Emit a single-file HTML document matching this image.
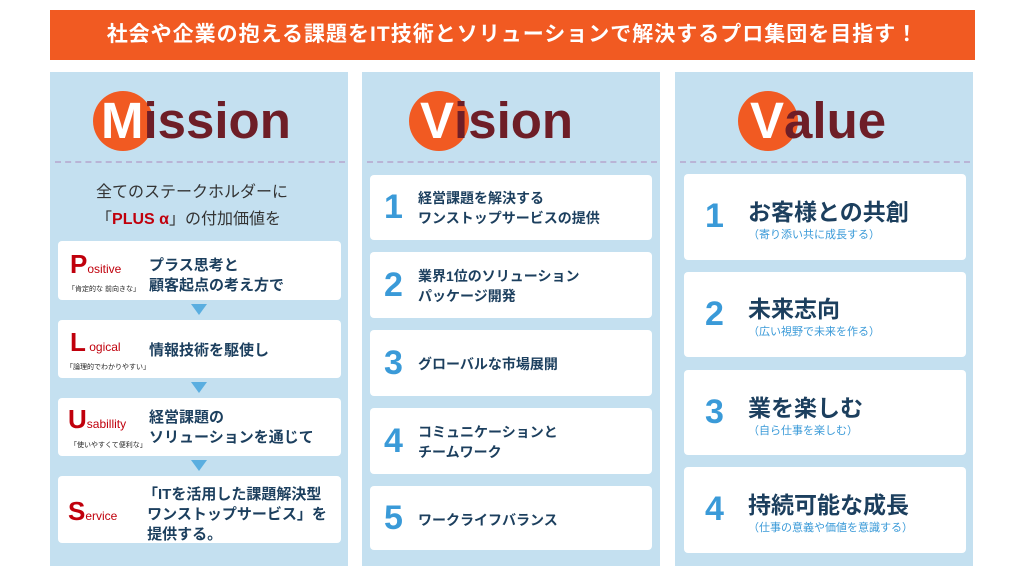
<!DOCTYPE html>
<html><head><meta charset="utf-8"><style>
*{margin:0;padding:0;box-sizing:border-box}
body{width:1024px;height:576px;background:#fff;position:relative;overflow:hidden;font-family:"Liberation Sans","Noto Sans CJK JP",sans-serif}
.ab{position:absolute}
.banner{left:50px;top:10px;width:925px;height:50px;background:#f15a22;color:#fff;font-weight:bold;font-size:21px;text-align:center;line-height:50px;letter-spacing:1px}
.col{top:72px;width:298px;height:494px;background:#c4e0f0}
.circ{width:60px;height:60px;border-radius:50%;background:#f15a22}
.big{font-size:51px;font-weight:bold;color:#6e1e27;line-height:1;letter-spacing:0}
.big b{color:#fff}
.dash{height:0;border-top:2px dashed #b9b4d6}
.card{background:#fff;border-radius:4px}
.num{color:#3a9ad8;font-weight:bold;font-size:34px}
.jt{color:#1c3f5e;font-weight:bold;font-size:15px;line-height:20px}
.tri{width:0;height:0;border-left:8px solid transparent;border-right:8px solid transparent;border-top:11px solid #5aaee0}
.L{color:#c0000c;font-weight:bold;font-size:26px}
.sm{color:#c0000c;font-size:12px}
.tiny{font-size:7px;color:#222}
.vt{color:#1c3f5e;font-size:23px;font-weight:bold}
.vs{color:#3a9ad8;font-size:11px}
</style></head><body>
<div class="ab banner">社会や企業の抱える課題をIT技術とソリューションで解決するプロ集団を目指す！</div>

<div class="ab col" style="left:50px"></div>
<div class="ab col" style="left:362px"></div>
<div class="ab col" style="left:675px"></div>

<!-- Mission -->
<div class="ab circ" style="left:93px;top:91px"></div>
<div class="ab big" style="left:101px;top:95px"><b>M</b>ission</div>
<div class="ab dash" style="left:55px;top:161px;width:290px"></div>
<div class="ab" style="left:96px;top:178px;font-size:16px;color:#333">全てのステークホルダーに</div>
<div class="ab" style="left:96px;top:205px;font-size:16px;color:#333">「<span style="color:#c0000c;font-weight:bold">PLUS α</span>」の付加価値を</div>

<div class="ab card" style="left:58px;top:241px;width:283px;height:59px"></div>
<div class="ab" style="left:70px;top:249px"><span class="L">P</span><span class="sm">ositive</span></div>
<div class="ab tiny" style="left:68px;top:284px">「肯定的な 前向きな」</div>
<div class="ab jt" style="left:149px;top:256px">プラス思考と<br>顧客起点の考え方で</div>
<div class="ab tri" style="left:191px;top:304px"></div>

<div class="ab card" style="left:58px;top:320px;width:283px;height:58px"></div>
<div class="ab" style="left:70px;top:327px"><span class="L">L</span><span class="sm"> ogical</span></div>
<div class="ab tiny" style="left:66px;top:362px">「論理的でわかりやすい」</div>
<div class="ab jt" style="left:149px;top:341px">情報技術を駆使し</div>
<div class="ab tri" style="left:191px;top:382px"></div>

<div class="ab card" style="left:58px;top:398px;width:283px;height:58px"></div>
<div class="ab" style="left:68px;top:404px"><span class="L">U</span><span class="sm">sabillity</span></div>
<div class="ab tiny" style="left:70px;top:440px">「使いやすくて便利な」</div>
<div class="ab jt" style="left:149px;top:408px">経営課題の<br>ソリューションを通じて</div>
<div class="ab tri" style="left:191px;top:460px"></div>

<div class="ab card" style="left:58px;top:476px;width:283px;height:67px"></div>
<div class="ab" style="left:68px;top:496px"><span class="L">S</span><span class="sm">ervice</span></div>
<div class="ab jt" style="left:143px;top:485px">「ITを活用した課題解決型<br>&nbsp;ワンストップサービス」を<br>&nbsp;提供する。</div>

<!-- Vision -->
<div class="ab circ" style="left:409px;top:91px"></div>
<div class="ab big" style="left:420px;top:95px"><b>V</b>ision</div>
<div class="ab dash" style="left:367px;top:161px;width:290px"></div>
<div class="ab card" style="left:370px;top:175px;width:282px;height:65px"></div>
<div class="ab num" style="left:384px;top:188px">1</div>
<div class="ab jt" style="left:418px;top:188px;font-size:14px">経営課題を解決する<br>ワンストップサービスの提供</div>
<div class="ab card" style="left:370px;top:252px;width:282px;height:66px"></div>
<div class="ab num" style="left:384px;top:266px">2</div>
<div class="ab jt" style="left:418px;top:266px;font-size:14px">業界1位のソリューション<br>パッケージ開発</div>
<div class="ab card" style="left:370px;top:330px;width:282px;height:66px"></div>
<div class="ab num" style="left:384px;top:344px">3</div>
<div class="ab jt" style="left:418px;top:354px;font-size:14px">グローバルな市場展開</div>
<div class="ab card" style="left:370px;top:408px;width:282px;height:66px"></div>
<div class="ab num" style="left:384px;top:422px">4</div>
<div class="ab jt" style="left:418px;top:422px;font-size:14px">コミュニケーションと<br>チームワーク</div>
<div class="ab card" style="left:370px;top:486px;width:282px;height:64px"></div>
<div class="ab num" style="left:384px;top:499px">5</div>
<div class="ab jt" style="left:418px;top:510px;font-size:14px">ワークライフバランス</div>

<!-- Value -->
<div class="ab circ" style="left:738px;top:91px"></div>
<div class="ab big" style="left:750px;top:95px"><b>V</b>alue</div>
<div class="ab dash" style="left:680px;top:161px;width:290px"></div>
<div class="ab card" style="left:684px;top:174px;width:282px;height:86px"></div>
<div class="ab num" style="left:705px;top:197px">1</div>
<div class="ab vt" style="left:748px;top:193px">お客様との共創</div>
<div class="ab vs" style="left:748px;top:226px">（寄り添い共に成長する）</div>
<div class="ab card" style="left:684px;top:272px;width:282px;height:85px"></div>
<div class="ab num" style="left:705px;top:295px">2</div>
<div class="ab vt" style="left:748px;top:290px">未来志向</div>
<div class="ab vs" style="left:748px;top:323px">（広い視野で未来を作る）</div>
<div class="ab card" style="left:684px;top:370px;width:282px;height:85px"></div>
<div class="ab num" style="left:705px;top:393px">3</div>
<div class="ab vt" style="left:748px;top:389px">業を楽しむ</div>
<div class="ab vs" style="left:748px;top:422px">（自ら仕事を楽しむ）</div>
<div class="ab card" style="left:684px;top:467px;width:282px;height:86px"></div>
<div class="ab num" style="left:705px;top:490px">4</div>
<div class="ab vt" style="left:748px;top:486px">持続可能な成長</div>
<div class="ab vs" style="left:748px;top:519px">（仕事の意義や価値を意識する）</div>
</body></html>
